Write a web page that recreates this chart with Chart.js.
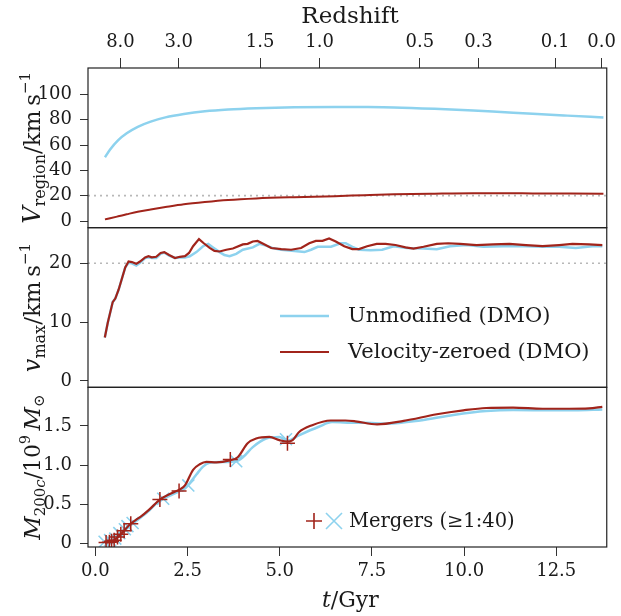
<!DOCTYPE html>
<html>
<head>
<meta charset="utf-8">
<script src="https://cdn.jsdelivr.net/npm/chart.js@4.4.1/dist/chart.umd.min.js"></script>
<style>
  body { margin: 0; background: #fff; }
  #wrap { width: 621px; height: 616px; position: relative; }
</style>
</head>
<body>
<div id="wrap"><canvas id="haloChart"></canvas></div>
<script>
// axis ticks
var timeTicks = [0, 2.5, 5, 7.5, 10, 12.5];
var redshiftLabels = ["8.0", "3.0", "1.5", "1.0", "0.5", "0.3", "0.1", "0.0"];
var redshiftTimes = [0.68, 2.26, 4.47, 6.08, 8.80, 10.39, 12.47, 13.73];
var vRegionTicks = [0, 20, 40, 60, 80, 100];
var vmaxTicks = [0, 10, 20];
var massTicks = [0, 0.5, 1.0, 1.5];

// top panel: V_region
var tRegion = [0.26, 0.4, 0.62, 0.85, 1.15, 1.5, 1.9, 2.4, 2.97, 3.6, 4.36, 5.4, 6.5, 7.3, 8.1, 9.2, 10.25, 11.0, 11.86, 12.8, 13.78];
var vRegionUnmod = [50.3, 56.5, 63.9, 69.3, 74.4, 78.5, 81.8, 84.5, 86.6, 88.0, 89.0, 89.8, 90.1, 90.0, 89.7, 88.6, 87.2, 86.0, 84.6, 83.2, 81.8];
var vRegionZero = [1.3, 2.2, 3.7, 5.3, 7.3, 9.1, 11.0, 13.2, 15.0, 16.6, 17.8, 18.8, 19.6, 20.4, 21.1, 21.6, 21.9, 21.9, 21.8, 21.7, 21.6];

// middle panel: v_max
var tVmaxZero = [0.256, 0.336, 0.47, 0.54, 0.63, 0.81, 0.90, 0.99, 1.11, 1.21, 1.35, 1.44, 1.53, 1.65, 1.77, 1.87, 2.0, 2.16, 2.29, 2.43, 2.54, 2.65, 2.81, 2.94, 3.1, 3.23, 3.37, 3.55, 3.73, 4.0, 4.13, 4.27, 4.4, 4.59, 4.77, 5.04, 5.31, 5.58, 5.8, 5.98, 6.16, 6.34, 6.52, 6.75, 6.97, 7.15, 7.37, 7.63, 7.87, 8.14, 8.41, 8.63, 8.9, 9.26, 9.57, 9.89, 10.34, 10.79, 11.23, 11.68, 12.13, 12.58, 12.94, 13.39, 13.75];
var vmaxZero = [7.4, 9.9, 13.4, 14.0, 15.5, 19.3, 20.3, 20.2, 19.9, 20.3, 21.0, 21.2, 21.0, 21.1, 21.75, 21.9, 21.4, 20.9, 21.1, 21.2, 21.75, 22.9, 24.1, 23.4, 22.6, 22.1, 22.0, 22.3, 22.5, 23.2, 23.3, 23.7, 23.8, 23.2, 22.6, 22.4, 22.3, 22.6, 23.4, 23.8, 23.8, 24.2, 23.7, 22.9, 22.4, 22.4, 22.9, 23.3, 23.3, 23.1, 22.7, 22.5, 22.8, 23.3, 23.4, 23.3, 23.1, 23.2, 23.3, 23.1, 22.9, 23.1, 23.3, 23.2, 23.1];
var tVmaxUnmod = [0.256, 0.336, 0.47, 0.54, 0.63, 0.81, 0.90, 0.99, 1.11, 1.21, 1.35, 1.44, 1.53, 1.65, 1.77, 1.87, 2.0, 2.16, 2.29, 2.43, 2.56, 2.74, 2.92, 3.06, 3.19, 3.37, 3.5, 3.64, 3.82, 4.0, 4.27, 4.45, 4.63, 4.8, 5.04, 5.4, 5.67, 5.85, 6.03, 6.39, 6.65, 6.79, 6.97, 7.15, 7.46, 7.78, 8.09, 8.45, 8.9, 9.26, 9.62, 10.07, 10.52, 11.06, 11.68, 12.13, 12.58, 13.03, 13.48, 13.75];
var vmaxUnmod = [7.4, 9.9, 13.4, 14.0, 15.5, 19.3, 20.1, 20.0, 19.6, 20.1, 20.9, 21.0, 20.9, 20.9, 21.6, 21.8, 21.3, 20.9, 21.0, 21.0, 21.2, 21.9, 22.9, 23.3, 22.7, 21.9, 21.4, 21.2, 21.6, 22.3, 22.7, 23.3, 23.0, 22.6, 22.3, 22.1, 21.9, 22.3, 22.8, 22.8, 23.4, 23.4, 22.8, 22.3, 22.2, 22.3, 22.9, 22.6, 22.5, 22.4, 22.9, 23.1, 22.8, 22.9, 22.9, 22.8, 22.8, 22.6, 22.9, 22.9];

// bottom panel: M200c in 1e9 Msun
var tMassZero = [0.26, 0.35, 0.44, 0.51, 0.6, 0.69, 0.78, 0.87, 0.96, 1.1, 1.23, 1.46, 1.75, 2.02, 2.29, 2.43, 2.65, 2.83, 3.01, 3.28, 3.64, 3.86, 4.13, 4.36, 4.72, 4.99, 5.21, 5.35, 5.52, 5.88, 6.38, 6.78, 7.05, 7.64, 8.36, 9.26, 9.98, 10.6, 11.33, 12.13, 12.85, 13.39, 13.75];
var massZero = [0.01, 0.015, 0.025, 0.04, 0.075, 0.115, 0.16, 0.21, 0.25, 0.3, 0.34, 0.43, 0.56, 0.63, 0.69, 0.74, 0.94, 1.01, 1.04, 1.035, 1.06, 1.10, 1.28, 1.34, 1.36, 1.32, 1.30, 1.32, 1.42, 1.51, 1.57, 1.57, 1.56, 1.52, 1.565, 1.65, 1.70, 1.73, 1.735, 1.72, 1.72, 1.725, 1.745];
var tMassUnmod = [0.25, 0.4, 0.54, 0.65, 0.78, 0.87, 1.01, 1.23, 1.46, 1.75, 2.02, 2.29, 2.47, 2.74, 2.92, 3.1, 3.46, 3.82, 4.0, 4.27, 4.63, 4.99, 5.21, 5.52, 6.06, 6.42, 7.05, 7.28, 7.91, 8.81, 9.71, 10.6, 11.33, 12.4, 13.0, 13.75];
var massUnmod = [0.01, 0.03, 0.055, 0.1, 0.15, 0.2, 0.25, 0.33, 0.42, 0.55, 0.61, 0.67, 0.72, 0.88, 0.98, 1.03, 1.04, 1.05, 1.10, 1.23, 1.34, 1.36, 1.31, 1.38, 1.49, 1.55, 1.54, 1.54, 1.53, 1.57, 1.64, 1.69, 1.705, 1.70, 1.70, 1.71];

// mergers
var tMergeZero = [0.29, 0.38, 0.44, 0.51, 0.6, 0.69, 0.78, 0.96, 1.75, 2.27, 3.66, 5.21];
var mMergeZero = [0.01, 0.015, 0.025, 0.04, 0.08, 0.115, 0.16, 0.25, 0.56, 0.67, 1.07, 1.28];
var tMergeUnmod = [0.25, 0.4, 0.54, 0.65, 0.8, 0.87, 1.01, 1.84, 2.52, 3.82, 5.17];
var mMergeUnmod = [0.02, 0.04, 0.06, 0.13, 0.18, 0.22, 0.26, 0.57, 0.74, 1.05, 1.33];

var refLevel = 20;

var FONT = "'DejaVu Serif', serif";
var BLUE = "#8dd2ee";
var RED = "#a1241b";
var INK = "#1a1a1a";

function pts(xs, ys) {
  return xs.map(function (x, i) { return { x: x, y: ys[i] }; });
}

function fixTicks(values) {
  return function (scale) {
    scale.ticks = values.map(function (v) { return { value: v }; });
  };
}

function drawRich(ctx, parts, cx, cy, rotate) {
  ctx.save();
  ctx.translate(cx, cy);
  if (rotate) ctx.rotate(-Math.PI / 2);
  var total = 0;
  parts.forEach(function (p) {
    ctx.font = (p.italic ? "italic " : "") + p.size + "px " + FONT;
    p.w = ctx.measureText(p.t).width;
    total += p.w;
  });
  var x = rotate ? -total / 2 : 0;
  ctx.fillStyle = INK;
  ctx.textBaseline = "alphabetic";
  parts.forEach(function (p) {
    ctx.font = (p.italic ? "italic " : "") + p.size + "px " + FONT;
    ctx.fillText(p.t, x, p.dy || 0);
    x += p.w;
  });
  ctx.restore();
}

var panelPlugin = {
  id: "panels",
  beforeDatasetsDraw: function (chart) {
    var ctx = chart.ctx, a = chart.chartArea;
    ctx.save();
    ctx.strokeStyle = "#b8b8b8";
    ctx.lineWidth = 1.6;
    ctx.setLineDash([2, 4]);
    ["y1", "y2"].forEach(function (id) {
      var y = chart.scales[id].getPixelForValue(refLevel);
      ctx.beginPath();
      ctx.moveTo(a.left, y);
      ctx.lineTo(a.right, y);
      ctx.stroke();
    });
    ctx.restore();
  },
  afterDatasetsDraw: function (chart) {
    var ctx = chart.ctx, a = chart.chartArea;
    ctx.save();
    ctx.strokeStyle = "#222";
    ctx.lineWidth = 1.2;
    ["y1", "y2", "y3"].forEach(function (id) {
      var s = chart.scales[id];
      ctx.strokeRect(a.left, s.top, a.right - a.left, s.bottom - s.top);
    });
    ctx.restore();
  },
  afterDraw: function (chart) {
    var ctx = chart.ctx;
    var s1 = chart.scales.y1, s2 = chart.scales.y2, s3 = chart.scales.y3;

    // axis titles
    ctx.save();
    ctx.fillStyle = INK;
    ctx.font = "23px " + FONT;
    ctx.textAlign = "center";
    ctx.textBaseline = "middle";
    ctx.fillText("Redshift", 350, 17);
    ctx.restore();
    drawRich(ctx, [
      { t: "t", italic: true, size: 22 },
      { t: "/Gyr", size: 22 }
    ], 322, 607, false);

    drawRich(ctx, [
      { t: "V", italic: true, size: 24 },
      { t: "region", size: 16, dy: 5 },
      { t: "/km\u2009s", size: 23 },
      { t: "\u22121", size: 15, dy: -10 }
    ], 40, (s1.top + s1.bottom) / 2, true);
    drawRich(ctx, [
      { t: "v", italic: true, size: 24 },
      { t: "max", size: 16, dy: 5 },
      { t: "/km\u2009s", size: 23 },
      { t: "\u22121", size: 15, dy: -10 }
    ], 40, (s2.top + s2.bottom) / 2, true);
    drawRich(ctx, [
      { t: "M", italic: true, size: 23 },
      { t: "200", size: 15, dy: 5 },
      { t: "c", italic: true, size: 15, dy: 5 },
      { t: "/10", size: 22 },
      { t: "9", size: 14, dy: -10 },
      { t: "\u2009", size: 22 },
      { t: "M", italic: true, size: 23 },
      { t: "\u2299", size: 15, dy: 4 }
    ], 40, (s3.top + s3.bottom) / 2, true);

    // legend in middle panel
    ctx.save();
    ctx.lineWidth = 2.5;
    ctx.strokeStyle = BLUE;
    ctx.beginPath(); ctx.moveTo(280, 316); ctx.lineTo(329, 316); ctx.stroke();
    ctx.lineWidth = 2.2;
    ctx.strokeStyle = RED;
    ctx.beginPath(); ctx.moveTo(280, 352); ctx.lineTo(329, 352); ctx.stroke();
    ctx.fillStyle = INK;
    ctx.font = "21px " + FONT;
    ctx.textBaseline = "middle";
    ctx.fillText("Unmodified (DMO)", 348, 317);
    ctx.fillText("Velocity-zeroed (DMO)", 348, 353);

    // merger legend in bottom panel
    ctx.lineWidth = 1.6;
    ctx.strokeStyle = RED;
    ctx.beginPath();
    ctx.moveTo(306, 521); ctx.lineTo(322, 521);
    ctx.moveTo(314, 513); ctx.lineTo(314, 529);
    ctx.stroke();
    ctx.strokeStyle = BLUE;
    ctx.beginPath();
    ctx.moveTo(326, 513); ctx.lineTo(342, 529);
    ctx.moveTo(342, 513); ctx.lineTo(326, 529);
    ctx.stroke();
    ctx.fillStyle = INK;
    ctx.font = "19.5px " + FONT;
    ctx.fillText("Mergers (\u22651:40)", 349, 522);
    ctx.restore();
  }
};

var tickFont = { family: FONT, size: 18 };

function yAxis(min, max, ticks, weight, fmt) {
  return {
    type: "linear",
    position: "left",
    stack: "panels",
    stackWeight: 1,
    weight: weight,
    min: min,
    max: max,
    afterBuildTicks: fixTicks(ticks),
    afterFit: function (s) { s.width = 88; },
    grid: { drawOnChartArea: false, drawTicks: true, tickLength: 8, color: "#333" },
    border: { display: false },
    ticks: { font: tickFont, color: INK, padding: 8, autoSkip: false, callback: fmt }
  };
}

new Chart(document.getElementById("haloChart"), {
  type: "line",
  data: {
    datasets: [
      { label: "Velocity-zeroed (DMO)", data: pts(tRegion, vRegionZero), yAxisID: "y1", borderColor: RED, borderWidth: 2, pointRadius: 0, cubicInterpolationMode: "monotone", order: 0 },
      { label: "Unmodified (DMO)", data: pts(tRegion, vRegionUnmod), yAxisID: "y1", borderColor: BLUE, borderWidth: 2.5, pointRadius: 0, cubicInterpolationMode: "monotone", order: 4 },
      { label: "Velocity-zeroed (DMO)", data: pts(tVmaxZero, vmaxZero), yAxisID: "y2", borderColor: RED, borderWidth: 2.2, pointRadius: 0, tension: 0, order: 0 },
      { label: "Unmodified (DMO)", data: pts(tVmaxUnmod, vmaxUnmod), yAxisID: "y2", borderColor: BLUE, borderWidth: 2.5, pointRadius: 0, tension: 0, order: 4 },
      { label: "Velocity-zeroed (DMO)", data: pts(tMassZero, massZero), yAxisID: "y3", borderColor: RED, borderWidth: 2.2, pointRadius: 0, cubicInterpolationMode: "monotone", order: 0 },
      { label: "Unmodified (DMO)", data: pts(tMassUnmod, massUnmod), yAxisID: "y3", borderColor: BLUE, borderWidth: 2.5, pointRadius: 0, cubicInterpolationMode: "monotone", order: 4 },
      { label: "Mergers", data: pts(tMergeZero, mMergeZero), yAxisID: "y3", showLine: false, pointStyle: "cross", pointRadius: 7.5, borderColor: RED, borderWidth: 1.5, backgroundColor: RED, order: 1 },
      { label: "Mergers", data: pts(tMergeUnmod, mMergeUnmod), yAxisID: "y3", showLine: false, pointStyle: "crossRot", pointRadius: 8.5, borderColor: BLUE, borderWidth: 1.6, backgroundColor: BLUE, order: 3 }
    ]
  },
  options: {
    responsive: true,
    maintainAspectRatio: false,
    animation: false,
    layout: { padding: { left: 0, right: 10, top: 0, bottom: 0 } },
    plugins: { legend: { display: false }, tooltip: { enabled: false } },
    scales: {
      x: {
        type: "linear",
        position: "bottom",
        min: -0.2,
        max: 13.87,
        afterBuildTicks: fixTicks(timeTicks),
        afterFit: function (s) { s.height = 69; },
        grid: { drawOnChartArea: false, drawTicks: true, tickLength: 9, color: "#333" },
        border: { display: false },
        ticks: { font: tickFont, color: INK, padding: 5, maxRotation: 0, autoSkip: false,
          callback: function (v) { return v.toFixed(1); } }
      },
      xTop: {
        type: "linear",
        position: "top",
        min: -0.2,
        max: 13.87,
        afterBuildTicks: fixTicks(redshiftTimes),
        afterFit: function (s) { s.height = 68; },
        grid: { drawOnChartArea: false, drawTicks: true, tickLength: 10, color: "#333" },
        border: { display: false },
        ticks: { font: tickFont, color: INK, padding: 5, maxRotation: 0, autoSkip: false,
          callback: function (v, i) { return redshiftLabels[i]; } }
      },
      y1: yAxis(-5.26, 120.8, vRegionTicks, 3, function (v) { return String(v); }),
      y2: yAxis(-1.08, 26.05, vmaxTicks, 2, function (v) { return String(v); }),
      y3: yAxis(-0.047, 1.994, massTicks, 1, function (v) { return v === 0 ? "0" : v.toFixed(1); })
    }
  },
  plugins: [panelPlugin]
});
</script>
</body>
</html>
